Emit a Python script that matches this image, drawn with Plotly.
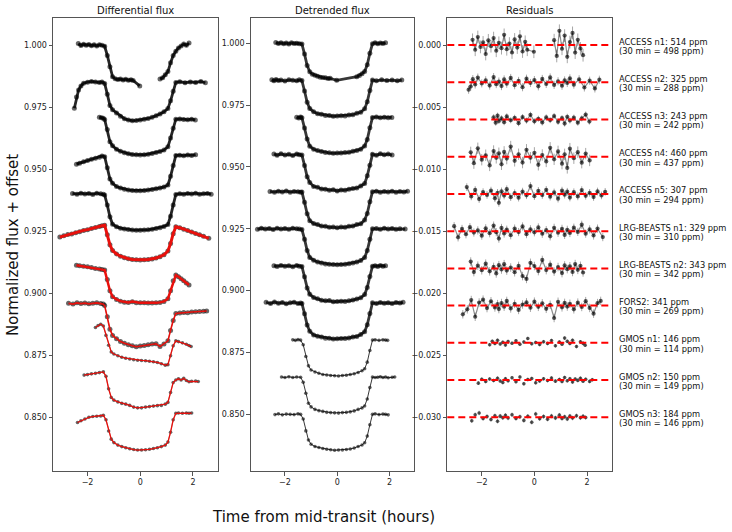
import plotly.graph_objects as go
from plotly.subplots import make_subplots

# Dataset labels and residual scatter (ppm)
names = ["ACCESS n1", "ACCESS n2", "ACCESS n3", "ACCESS n4", "ACCESS n5",
         "LRG-BEASTS n1", "LRG-BEASTS n2", "FORS2", "GMOS n1", "GMOS n2", "GMOS n3"]
rms_ppm = [514, 325, 243, 460, 307, 329, 343, 341, 146, 150, 184]
rms30_ppm = [498, 288, 242, 437, 294, 310, 342, 269, 114, 149, 146]
flux_offsets = [0.0, -0.015, -0.030, -0.045, -0.060, -0.075, -0.090, -0.105, -0.120, -0.135, -0.150]
res_offsets = [0.0, -0.003, -0.006, -0.009, -0.012, -0.015, -0.018, -0.021, -0.024, -0.027, -0.030]

# ACCESS n1
t1 = [-2.35, -2.25, -2.15, -2.05, -1.95, -1.85, -1.75, -1.65, -1.55, -1.45, -1.35, -1.25, -1.15, -1.05,
      -0.95, -0.85, -0.75, -0.65, -0.55, -0.45, -0.35, -0.27, -0.02, 0.75, 0.85, 0.95, 1.05, 1.15, 1.25,
      1.35, 1.45, 1.55, 1.65, 1.75, 1.85]
diff1 = [1.0006, 0.9998, 1.0003, 0.9999, 1.0002, 0.9997, 1.0001, 0.9996, 1.0001, 0.9999, 0.9995, 0.9958,
         0.9912, 0.9872, 0.9864, 0.9861, 0.9863, 0.9859, 0.9862, 0.9858, 0.9860, 0.9857, 0.9835, 0.9863,
         0.9868, 0.9880, 0.9893, 0.9928, 0.9958, 0.9975, 0.9988, 0.9996, 1.0004, 0.9999, 1.0008]
det1 = [1.0003, 0.9999, 1.0002, 0.9998, 1.0001, 0.9997, 1.0002, 0.9999, 1.0000, 0.9998, 0.9997, 0.9956,
        0.9910, 0.9885, 0.9875, 0.9871, 0.9867, 0.9863, 0.9861, 0.9860, 0.9857, 0.9858, 0.9850, 0.9865,
        0.9870, 0.9877, 0.9886, 0.9913, 0.9960, 0.9998, 1.0002, 0.9998, 1.0001, 0.9999, 1.0002]
res1 = [420, -380, 650, -150, 210, -720, 380, -90, 560, -460, 180, -250, 820, -340, 120, -600, 450, -200,
        700, -520, 260, -380, -540, 390, -880, 1150, -300, 760, -950, 240, 980, -610, 420, -270, -820]

# ACCESS n2
t2 = [-2.5, -2.42, -2.34, -2.25, -2.15, -2.0, -1.85, -1.7, -1.55, -1.45, -1.35, -1.25, -1.15, -1.05, -0.9,
      -0.75, -0.6, -0.45, -0.3, -0.15, 0.0, 0.15, 0.3, 0.45, 0.6, 0.75, 0.9, 1.05, 1.15, 1.25, 1.35, 1.5,
      1.7, 1.9, 2.1, 2.3, 2.47]
diff2 = [0.9895, 0.9940, 0.9969, 0.9985, 0.9996, 1.0000, 1.0003, 1.0001, 0.9999, 1.0001, 0.9995, 0.9952,
         0.9906, 0.9889, 0.9876, 0.9863, 0.9853, 0.9848, 0.9845, 0.9846, 0.9848, 0.9851, 0.9854, 0.9859,
         0.9865, 0.9872, 0.9881, 0.9894, 0.9925, 0.9964, 0.9999, 1.0002, 0.9998, 1.0001, 0.9999, 1.0003, 0.9998]
det2 = [1.0002, 0.9998, 1.0003, 0.9999, 1.0001, 0.9997, 1.0002, 1.0000, 0.9998, 1.0002, 0.9999, 0.9957,
        0.9911, 0.9886, 0.9873, 0.9865, 0.9863, 0.9858, 0.9858, 0.9855, 0.9856, 0.9857, 0.9856, 0.9860,
        0.9861, 0.9867, 0.9871, 0.9885, 0.9913, 0.9959, 1.0001, 0.9998, 1.0002, 0.9999, 1.0001, 0.9998, 1.0001]
res2 = [-600, -350, 250, -180, 380, -90, 160, -270, 420, -150, 60, -310, 230, -120, 350, -240, 110, -400,
        290, -60, 180, -330, 270, -140, 390, -210, 80, -280, 150, -60, 320, -190, 240, -420, 130, -500, 210]

# ACCESS n3
t3 = [-1.55, -1.47, -1.4, -1.35, -1.25, -1.15, -1.05, -0.9, -0.75, -0.6, -0.45, -0.3, -0.15, 0.0, 0.15,
      0.3, 0.45, 0.6, 0.75, 0.9, 1.05, 1.15, 1.25, 1.35, 1.5, 1.65, 1.8, 1.95, 2.09]
diff3 = [1.0009, 1.0007, 1.0005, 1.0000, 0.9960, 0.9910, 0.9894, 0.9880, 0.9872, 0.9866, 0.9862, 0.9859,
         0.9858, 0.9857, 0.9858, 0.9860, 0.9863, 0.9867, 0.9871, 0.9877, 0.9890, 0.9925, 0.9965, 1.0001,
         1.0002, 1.0000, 0.9999, 1.0001, 0.9998]
det3 = [1.0001, 0.9998, 1.0002, 0.9999, 0.9957, 0.9913, 0.9884, 0.9871, 0.9866, 0.9862, 0.9858, 0.9857,
        0.9855, 0.9856, 0.9856, 0.9858, 0.9859, 0.9863, 0.9866, 0.9872, 0.9885, 0.9911, 0.9958, 1.0000,
        1.0002, 0.9999, 1.0001, 0.9999, 1.0000]
res3 = [180, -260, 310, -120, 90, -220, 250, -60, 140, -300, 200, -90, 380, -150, 60, -240, 170, -50, 280,
        -190, 110, -330, 220, -80, 150, -260, 90, 400, -170]

# ACCESS n4
t4 = [-2.42, -2.3, -2.15, -2.0, -1.85, -1.7, -1.55, -1.45, -1.35, -1.25, -1.15, -1.05, -0.9, -0.75, -0.6,
      -0.45, -0.3, -0.15, 0.0, 0.15, 0.3, 0.45, 0.6, 0.75, 0.9, 1.05, 1.15, 1.25, 1.35, 1.5, 1.65, 1.8,
      1.95, 2.1]
diff4 = [0.9970, 0.9974, 0.9980, 0.9985, 0.9990, 0.9994, 0.9998, 1.0003, 1.0000, 0.9955, 0.9910, 0.9893,
         0.9880, 0.9874, 0.9869, 0.9866, 0.9864, 0.9863, 0.9863, 0.9864, 0.9866, 0.9868, 0.9871, 0.9874,
         0.9878, 0.9886, 0.9921, 0.9965, 1.0005, 1.0006, 1.0004, 1.0007, 1.0005, 1.0008]
det4 = [1.0002, 0.9997, 1.0003, 0.9998, 1.0001, 0.9996, 1.0002, 0.9999, 0.9998, 0.9956, 0.9910, 0.9887,
        0.9871, 0.9868, 0.9861, 0.9860, 0.9856, 0.9858, 0.9853, 0.9857, 0.9856, 0.9860, 0.9863, 0.9865,
        0.9873, 0.9883, 0.9914, 0.9957, 1.0001, 0.9997, 1.0003, 0.9999, 1.0002, 0.9998]
res4 = [350, -520, 680, -240, 120, -700, 460, -90, 280, -610, 390, -150, 820, -330, 200, -470, 560, -80,
        310, -650, 140, -380, 720, -210, 430, -560, 190, -900, 650, -120, 370, -480, 250, -300]

# ACCESS n5
t5 = [-2.57, -2.4, -2.25, -2.1, -1.95, -1.8, -1.65, -1.5, -1.4, -1.35, -1.25, -1.15, -1.05, -0.9, -0.75,
      -0.6, -0.45, -0.3, -0.15, 0.0, 0.15, 0.3, 0.45, 0.6, 0.75, 0.9, 1.05, 1.15, 1.25, 1.35, 1.5, 1.65,
      1.8, 1.95, 2.1, 2.25, 2.4, 2.55, 2.69]
diff5 = [1.0002, 0.9999, 1.0003, 1.0000, 1.0002, 0.9998, 1.0003, 1.0001, 0.9999, 0.9996, 0.9955, 0.9908,
         0.9878, 0.9868, 0.9862, 0.9859, 0.9857, 0.9855, 0.9854, 0.9854, 0.9855, 0.9856, 0.9858, 0.9861,
         0.9864, 0.9869, 0.9877, 0.9910, 0.9955, 0.9998, 1.0001, 0.9999, 1.0002, 1.0000, 1.0003, 0.9999,
         1.0001, 1.0002, 0.9999]
det5 = [1.0001, 0.9998, 1.0002, 0.9999, 1.0003, 0.9998, 1.0001, 1.0000, 0.9998, 0.9999, 0.9957, 0.9911,
        0.9883, 0.9871, 0.9867, 0.9861, 0.9860, 0.9856, 0.9857, 0.9854, 0.9857, 0.9856, 0.9860, 0.9861,
        0.9867, 0.9870, 0.9886, 0.9912, 0.9959, 1.0000, 1.0002, 0.9998, 1.0001, 0.9999, 1.0002, 0.9998,
        1.0001, 0.9999, 1.0002]
res5 = [550, -200, 320, -410, 150, -80, 270, -350, 90, -720, 210, -130, 380, -260, 60, -300, 190, -110,
        640, -180, 250, -90, 330, -220, 120, -380, 270, -60, 180, -290, 140, -200, 310, -150, 90, -250,
        200, -120, 170]

# LRG-BEASTS n1
t6 = [-3.05, -2.9, -2.75, -2.6, -2.45, -2.3, -2.15, -2.0, -1.85, -1.7, -1.55, -1.45, -1.35, -1.25, -1.15,
      -1.05, -0.9, -0.75, -0.6, -0.45, -0.3, -0.15, 0.0, 0.15, 0.3, 0.45, 0.6, 0.75, 0.9, 1.05, 1.15,
      1.25, 1.35, 1.5, 1.65, 1.8, 1.95, 2.1, 2.25, 2.4, 2.6]
diff6 = [0.9976, 0.9981, 0.9986, 0.9989, 0.9994, 0.9998, 1.0003, 1.0006, 1.0011, 1.0015, 1.0019, 1.0022,
         1.0024, 0.9985, 0.9945, 0.9922, 0.9908, 0.9899, 0.9893, 0.9889, 0.9886, 0.9885, 0.9884, 0.9885,
         0.9886, 0.9888, 0.9892, 0.9897, 0.9905, 0.9920, 0.9950, 0.9990, 1.0018, 1.0014, 1.0008, 1.0003,
         0.9997, 0.9991, 0.9985, 0.9979, 0.9971]
det6 = [0.9998, 1.0002, 0.9999, 1.0001, 0.9997, 1.0002, 0.9999, 1.0001, 0.9998, 1.0002, 1.0000, 0.9999,
        0.9997, 0.9958, 0.9912, 0.9884, 0.9873, 0.9866, 0.9862, 0.9858, 0.9857, 0.9856, 0.9855, 0.9856,
        0.9857, 0.9859, 0.9862, 0.9866, 0.9872, 0.9884, 0.9912, 0.9958, 1.0000, 1.0001, 0.9998, 1.0002,
        0.9999, 1.0001, 0.9998, 1.0000, 0.9999]
res6 = [400, -500, 180, -250, 320, -110, 60, -360, 230, -170, 450, -80, -600, 260, -190, 120, -330, 210,
        -70, 380, -240, 150, -90, 300, -210, 80, -420, 270, -130, 190, -300, 110, -150, 280, -60, 520,
        -200, 140, -350, 210, -480]

# LRG-BEASTS n2
t7 = [-2.42, -2.3, -2.15, -2.0, -1.85, -1.7, -1.55, -1.45, -1.35, -1.25, -1.15, -1.05, -0.9, -0.75, -0.6,
      -0.45, -0.3, -0.15, 0.0, 0.15, 0.3, 0.45, 0.6, 0.75, 0.9, 1.05, 1.15, 1.25, 1.35, 1.45, 1.55, 1.65,
      1.75, 1.85]
diff7 = [1.0013, 1.0011, 1.0009, 1.0007, 1.0004, 1.0000, 0.9997, 0.9995, 0.9993, 0.9955, 0.9910, 0.9886,
         0.9875, 0.9868, 0.9864, 0.9863, 0.9866, 0.9862, 0.9861, 0.9861, 0.9860, 0.9860, 0.9861, 0.9863,
         0.9867, 0.9878, 0.9910, 0.9950, 0.9973, 0.9966, 0.9958, 0.9950, 0.9941, 0.9933]
det7 = [1.0001, 0.9998, 1.0002, 0.9999, 1.0001, 0.9997, 1.0002, 0.9999, 0.9998, 0.9956, 0.9911, 0.9885,
        0.9872, 0.9867, 0.9861, 0.9859, 0.9860, 0.9855, 0.9856, 0.9857, 0.9856, 0.9859, 0.9862, 0.9866,
        0.9871, 0.9884, 0.9913, 0.9957, 0.9999, 1.0001, 0.9998, 1.0002, 0.9999, 1.0001]
res7 = [550, -300, 220, -150, 380, -240, 120, -410, 260, -90, 340, -180, 70, -310, 200, -620, -850, 450,
        190, -220, 680, -140, 300, -260, 110, -380, 240, -60, 170, -290, 350, -120, 210, -330]

# FORS2
t8 = [-2.72, -2.55, -2.4, -2.25, -2.1, -1.95, -1.8, -1.65, -1.5, -1.4, -1.35, -1.25, -1.15, -1.05, -0.9,
      -0.75, -0.6, -0.45, -0.3, -0.15, 0.0, 0.15, 0.3, 0.45, 0.6, 0.75, 0.9, 1.05, 1.15, 1.25, 1.35, 1.5,
      1.65, 1.8, 1.95, 2.1, 2.25, 2.4, 2.52]
diff8 = [1.0009, 1.0006, 1.0011, 1.0008, 1.0010, 1.0007, 1.0009, 1.0011, 1.0008, 1.0006, 1.0000, 0.9955,
         0.9905, 0.9880, 0.9866, 0.9855, 0.9848, 0.9842, 0.9838, 0.9834, 0.9837, 0.9839, 0.9842, 0.9845,
         0.9846, 0.9835, 0.9845, 0.9858, 0.9900, 0.9940, 0.9968, 0.9970, 0.9972, 0.9971, 0.9974, 0.9975,
         0.9976, 0.9977, 0.9978]
det8 = [1.0003, 0.9998, 1.0004, 0.9999, 1.0002, 0.9997, 1.0001, 1.0003, 0.9998, 1.0000, 0.9998, 0.9957,
        0.9911, 0.9886, 0.9871, 0.9866, 0.9863, 0.9858, 0.9858, 0.9855, 0.9856, 0.9857, 0.9857, 0.9859,
        0.9863, 0.9865, 0.9873, 0.9884, 0.9912, 0.9958, 1.0001, 0.9998, 1.0002, 0.9999, 1.0001, 0.9998,
        1.0002, 1.0000, 1.0003]
res8 = [-700, -300, 450, -900, 250, 480, -200, 350, -150, 120, -280, 210, -90, 380, -230, 140, -350, 90,
        260, -170, 320, -100, 180, -260, 70, -1000, 310, -140, 220, -80, 150, -300, 240, -110, 360, -190,
        -650, 200, 380]

# GMOS n1
t9 = [-1.7, -1.6, -1.5, -1.4, -1.3, -1.2, -1.1, -1.0, -0.85, -0.7, -0.55, -0.4, -0.25, -0.1, 0.05, 0.2,
      0.35, 0.5, 0.65, 0.8, 0.95, 1.05, 1.15, 1.25, 1.35, 1.45, 1.6, 1.75, 1.85, 1.93]
diff9 = [1.0062, 1.0070, 1.0075, 1.0068, 1.0030, 0.9990, 0.9963, 0.9955, 0.9948, 0.9942, 0.9938, 0.9935,
         0.9932, 0.9930, 0.9929, 0.9928, 0.9926, 0.9924, 0.9921, 0.9916, 0.9910, 0.9912, 0.9948, 0.9988,
         1.0008, 1.0005, 1.0000, 0.9994, 0.9989, 0.9985]
det9 = [1.0001, 0.9999, 1.0002, 1.0000, 0.9981, 0.9934, 0.9896, 0.9879, 0.9871, 0.9866, 0.9861, 0.9859,
        0.9857, 0.9856, 0.9855, 0.9857, 0.9858, 0.9861, 0.9864, 0.9869, 0.9876, 0.9884, 0.9911, 0.9958,
        1.0000, 1.0001, 0.9999, 1.0001, 1.0000, 0.9999]
res9 = [-150, 120, -60, 200, -90, 40, -180, 110, -30, 160, -120, 70, 350, -80, 30, -140, 90, -50, 180,
        -240, 60, -110, 380, 120, -60, 200, -300, 80, -40, -190]

# GMOS n2
t10 = [-2.13, -2.0, -1.85, -1.7, -1.55, -1.4, -1.3, -1.2, -1.1, -1.0, -0.85, -0.7, -0.55, -0.4, -0.25,
       -0.1, 0.05, 0.2, 0.35, 0.5, 0.65, 0.8, 0.95, 1.05, 1.15, 1.25, 1.35, 1.45, 1.55, 1.65, 1.75, 1.85,
       1.95, 2.1, 2.2]
diff10 = [1.0020, 1.0022, 1.0025, 1.0027, 1.0030, 1.0033, 1.0015, 0.9965, 0.9930, 0.9919, 0.9912, 0.9906,
          0.9903, 0.9898, 0.9891, 0.9888, 0.9888, 0.9891, 0.9893, 0.9895, 0.9897, 0.9898, 0.9903, 0.9910,
          0.9950, 0.9990, 1.0000, 1.0005, 1.0000, 1.0007, 0.9998, 0.9993, 0.9995, 0.9996, 0.9994]
det10 = [1.0001, 0.9999, 1.0002, 0.9999, 1.0001, 1.0000, 0.9980, 0.9935, 0.9895, 0.9880, 0.9870, 0.9865,
         0.9862, 0.9858, 0.9857, 0.9856, 0.9855, 0.9857, 0.9858, 0.9860, 0.9864, 0.9870, 0.9876, 0.9884,
         0.9912, 0.9958, 1.0001, 0.9999, 1.0000, 1.0002, 0.9999, 1.0001, 0.9998, 1.0000, 1.0001]
res10 = [-250, 60, -120, 90, -40, 150, -80, -200, 110, -60, 180, -130, 250, -300, 40, 120, -220, -70, 100,
         -40, 160, -90, 50, -120, 200, -60, 110, -150, 80, -30, 140, -90, 60, -110, 30]

# GMOS n3
t11 = [-2.38, -2.25, -2.1, -1.95, -1.8, -1.65, -1.5, -1.4, -1.3, -1.2, -1.1, -1.0, -0.85, -0.7, -0.55,
       -0.4, -0.25, -0.1, 0.05, 0.2, 0.35, 0.5, 0.65, 0.8, 0.95, 1.05, 1.15, 1.25, 1.35, 1.45, 1.6, 1.75,
       1.85, 1.95]
diff11 = [0.9979, 0.9986, 0.9993, 1.0000, 1.0003, 1.0004, 1.0005, 1.0008, 0.9990, 0.9945, 0.9912, 0.9898,
          0.9888, 0.9882, 0.9877, 0.9873, 0.9870, 0.9868, 0.9868, 0.9869, 0.9871, 0.9874, 0.9877, 0.9882,
          0.9888, 0.9900, 0.9940, 0.9990, 1.0016, 1.0017, 1.0016, 1.0017, 1.0016, 1.0017]
det11 = [0.9999, 1.0002, 0.9998, 1.0001, 1.0000, 0.9999, 1.0002, 1.0000, 0.9981, 0.9933, 0.9896, 0.9879,
         0.9870, 0.9866, 0.9862, 0.9859, 0.9857, 0.9855, 0.9856, 0.9856, 0.9858, 0.9860, 0.9864, 0.9870,
         0.9876, 0.9885, 0.9912, 0.9958, 1.0000, 1.0002, 0.9999, 1.0001, 1.0000, 0.9998]
res11 = [-280, 200, 350, -100, 60, -180, 120, -320, 90, -40, 150, -60, 200, -90, 40, -250, 80, -400, 260,
         -110, 60, -150, 100, -50, 170, -90, 40, -130, 90, -60, 120, -40, 80, -20]

times = [t1, t2, t3, t4, t5, t6, t7, t8, t9, t10, t11]
diffs = [diff1, diff2, diff3, diff4, diff5, diff6, diff7, diff8, diff9, diff10, diff11]
dets = [det1, det2, det3, det4, det5, det6, det7, det8, det9, det10, det11]
resids = [res1, res2, res3, res4, res5, res6, res7, res8, res9, res10, res11]

# styling: red model line width in the differential panel (0 = hidden under the points)
model_width = [0, 0, 0, 0, 0, 3, 2.5, 1.6, 1.3, 1.3, 1.3]
dense = [True, True, True, True, True, True, True, True, False, False, False]

W, H = 732, 532
FONT = "DejaVu Sans"


def break_gaps(x, y, gap=0.5):
    # don't draw a connecting line across an observing gap
    xs, ys = [], []
    for k in range(len(x)):
        if k > 0 and x[k] - x[k - 1] > gap:
            xs.append(None)
            ys.append(None)
        xs.append(x[k])
        ys.append(y[k])
    return xs, ys


fig = make_subplots(rows=1, cols=3)

for i in range(len(names)):
    t = times[i]
    off = flux_offsets[i]
    msize = 5 if dense[i] else 3.6
    # differential flux
    xd, yd = break_gaps(t, [v + off for v in diffs[i]])
    fig.add_trace(go.Scatter(
        x=xd, y=yd, mode="lines+markers",
        line=dict(color="rgba(0,0,0,0.85)" if model_width[i] == 0 else "rgba(0,0,0,0.35)",
                  width=2.8 if model_width[i] == 0 else 1),
        marker=dict(color="rgba(0,0,0,0.6)", size=msize),
        showlegend=False), row=1, col=1)
    if model_width[i] > 0:
        fig.add_trace(go.Scatter(
            x=xd, y=yd, mode="lines",
            line=dict(color="#e8100c", width=model_width[i]),
            showlegend=False), row=1, col=1)
    # detrended flux
    fig.add_trace(go.Scatter(
        x=t, y=[v + off for v in dets[i]], mode="lines+markers",
        line=dict(color="rgba(20,20,20,0.85)", width=2.8 if dense[i] else 1),
        marker=dict(color="rgba(0,0,0,0.6)", size=msize),
        showlegend=False), row=1, col=2)
    # residuals
    xr, yr = break_gaps(t, [r * 1e-6 + res_offsets[i] for r in resids[i]])
    fig.add_trace(go.Scatter(
        x=xr, y=yr,
        mode="lines+markers" if dense[i] else "markers",
        line=dict(color="rgba(0,0,0,0.45)", width=1.2),
        marker=dict(color="rgba(0,0,0,0.65)", size=4.2 if dense[i] else 3.6),
        error_y=dict(type="constant", value=rms_ppm[i] * 1e-6, color="rgba(0,0,0,0.35)",
                     thickness=1, width=0),
        showlegend=False), row=1, col=3)

for i in range(len(names)):
    fig.add_shape(type="line", xref="x3 domain", x0=0, x1=1, yref="y3",
                  y0=res_offsets[i], y1=res_offsets[i], layer="above",
                  line=dict(color="red", width=2, dash="7px,4px"))
    fig.add_annotation(x=617 / W, xref="paper", xanchor="left", y=res_offsets[i], yref="y3",
                       text=f"{names[i]}: {rms_ppm[i]} ppm", showarrow=False, yshift=3.5,
                       font=dict(family=FONT, size=8.3, color="#111"))
    fig.add_annotation(x=617 / W, xref="paper", xanchor="left", y=res_offsets[i], yref="y3",
                       text=f"(30 min = {rms30_ppm[i]} ppm)", showarrow=False, yshift=-5.8,
                       font=dict(family=FONT, size=8.3, color="#111"))

axis_style = dict(showline=True, linecolor="#555", linewidth=1, mirror=True, ticks="outside",
                  ticklen=3.5, tickcolor="#555", showgrid=False, zeroline=False,
                  tickfont=dict(family=FONT, size=8, color="#222"))
xdoms = [[53 / W, 218 / W], [250.7 / W, 414.3 / W], [447.3 / W, 612 / W]]
ydom = [1 - 471 / H, 1 - 18 / H]
for k in range(3):
    fig.update_xaxes(axis_style, domain=xdoms[k], range=[-3.31, 2.95], tickvals=[-2, 0, 2],
                     ticktext=["\u22122", "0", "2"], row=1, col=k + 1)
fig.update_yaxes(axis_style, domain=ydom, range=[0.82836, 1.01088], dtick=0.025, tickformat=".3f",
                 row=1, col=1)
fig.update_yaxes(axis_style, domain=ydom, range=[0.8271, 1.0102], dtick=0.025, tickformat=".3f",
                 row=1, col=2)
fig.update_yaxes(axis_style, domain=ydom, range=[-0.03433, 0.00218], dtick=0.005, tickformat=".3f",
                 row=1, col=3)

titles = ["Differential flux", "Detrended flux", "Residuals"]
for k in range(3):
    fig.add_annotation(x=(xdoms[k][0] + xdoms[k][1]) / 2, y=1 - 10 / H, xref="paper", yref="paper",
                       xanchor="center", yanchor="middle", text=titles[k], showarrow=False,
                       font=dict(family=FONT, size=10, color="#111"))
fig.add_annotation(x=13 / W, y=1 - 245 / H, xref="paper", yref="paper", text="Normalized flux + offset",
                   xanchor="center", yanchor="middle", textangle=-90, showarrow=False,
                   font=dict(family=FONT, size=15, color="#111"))
fig.add_annotation(x=323 / W, y=1 - 517 / H, xref="paper", yref="paper",
                   xanchor="center", yanchor="middle",
                   text="Time from mid-transit (hours)", showarrow=False,
                   font=dict(family=FONT, size=15, color="#111"))

fig.update_layout(width=W, height=H, margin=dict(l=0, r=0, t=0, b=0),
                  paper_bgcolor="white", plot_bgcolor="white", showlegend=False)

fig.write_html("out.html", config={"displayModeBar": False},
               post_script="document.body.style.margin='0';")
